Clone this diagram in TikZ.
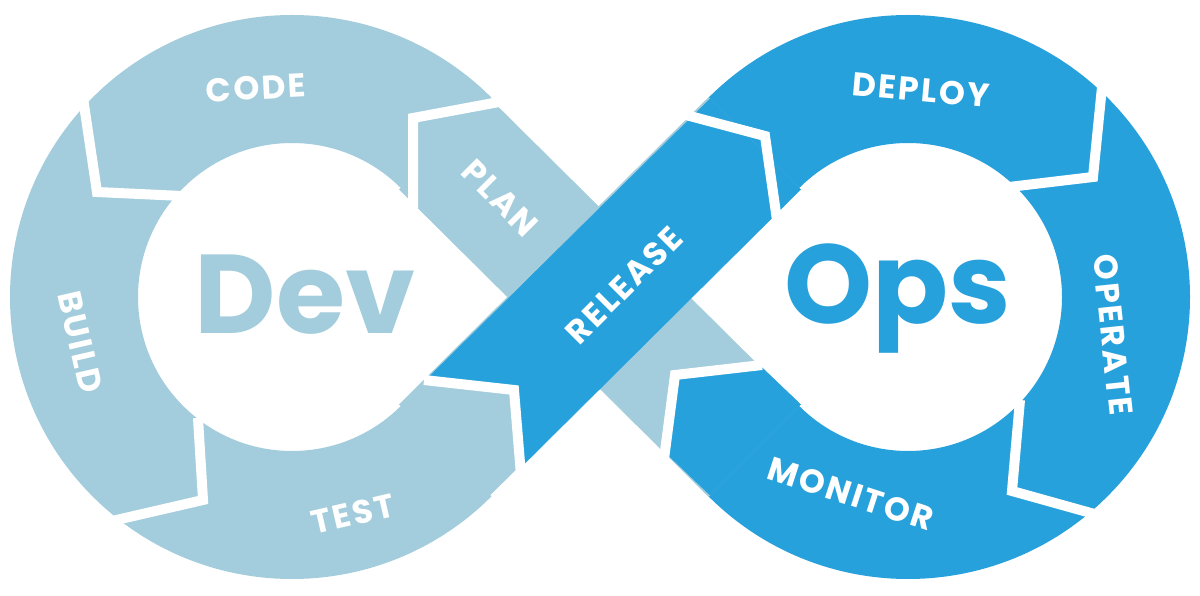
\documentclass[tikz,border=0pt]{standalone}
\usepackage{fontspec}
\usetikzlibrary{calc}
\newfontfamily\pop{Poppins}
\newfontfamily\popsp{Poppins}[LetterSpace=7]
\definecolor{lightb}{HTML}{A3CDDC}
\definecolor{darkb}{HTML}{27A1DC}
\begin{document}
\begin{tikzpicture}[x=1pt,y=1pt,
  sep/.style={white,line width=10pt,line join=miter},
  lf/.style={fill=lightb,draw=lightb,line width=0.6pt},
  df/.style={fill=darkb,draw=darkb,line width=0.6pt},
  lbl/.style={text=white,font=\popsp\bfseries\fontsize{33}{33}\selectfont,inner sep=0pt},
  big/.style={font=\pop\bfseries\fontsize{112}{112}\selectfont,inner sep=0pt}]
\useasboundingbox (0,0) rectangle (1200,595);
\fill[white] (0,0) rectangle (1200,595);
\coordinate (L) at (292,298);
\coordinate (R) at (908,298);
% rings
\fill[lightb] ($(L)+(45:282)$) arc[start angle=45,end angle=315,radius=282]
  -- ($(L)+(315:154)$) arc[start angle=315,end angle=45,radius=154] -- cycle;
\fill[darkb] ($(R)+(135:282)$) arc[start angle=135,end angle=-135,radius=282]
  -- ($(R)+(-135:154)$) arc[start angle=-135,end angle=135,radius=154] -- cycle;
% PLAN strip
\path[lf] ($(L)+(45:282)+(-135:2)$) -- ($(L)+(45:154)+(-135:2)$) -- ($(R)+(225:282)$) -- ($(R)+(225:154)$) -- cycle;
\path[df] (757,232) -- (675,220) -- (665,143) -- ($(R)+(225:282)+(45:2)$) -- ($(R)+(225:154)+(45:2)$) -- cycle;
% RELEASE strip
\path[lf] ($(L)+(-45:282)+(135:2)$) -- ($(L)+(-45:154)+(135:2)$) -- ($(R)+(135:282)$) -- ($(R)+(135:154)$) -- cycle;
\path[df] (426,215) -- (514,205) -- (520,127) -- ($(R)+(135:154)+(-45:2)$) -- ($(R)+(135:282)+(-45:2)$) -- cycle;
% separators
\draw[sep] (83,497) -- (97,403) -- (182,399);
\draw[sep] (198,177) -- (203,95) -- (112,74);
\draw[sep] (424,215) -- (514,205) -- (521,120);
\draw[sep] (499,493) -- (413,477) -- (413,387);
\draw[sep] (686,480) -- (765,459) -- (777,375);
\draw[sep] (762,230) -- (675,220) -- (664,136);
\draw[sep] (1102,508) -- (1093,418) -- (1009,408);
\draw[sep] (1020,195) -- (1012,104) -- (1098,80);
% labels
\node[lbl,rotate=3] (code) at (256,507) {CODE};
\node[lbl,rotate=-45] (plan) at (500,397) {PLAN};
\node[lbl,rotate=45] (release) at (624,310) {RELEASE};
\node[lbl,rotate=-5] (deploy) at (921,505) {DEPLOY};
\node[lbl,rotate=-84] (operate) at (1113,260) {OPERATE};
\node[lbl,rotate=-18] (monitor) at (851,101) {MONITOR};
\node[lbl,rotate=13] (test) at (353,81) {TEST};
\node[lbl,rotate=-77] (build) at (80,253) {BUILD};
\node[big,text=lightb] (dev) at (305,300) {Dev};
\node[big,text=darkb] (ops) at (898,296) {Ops};
\end{tikzpicture}
\end{document}
